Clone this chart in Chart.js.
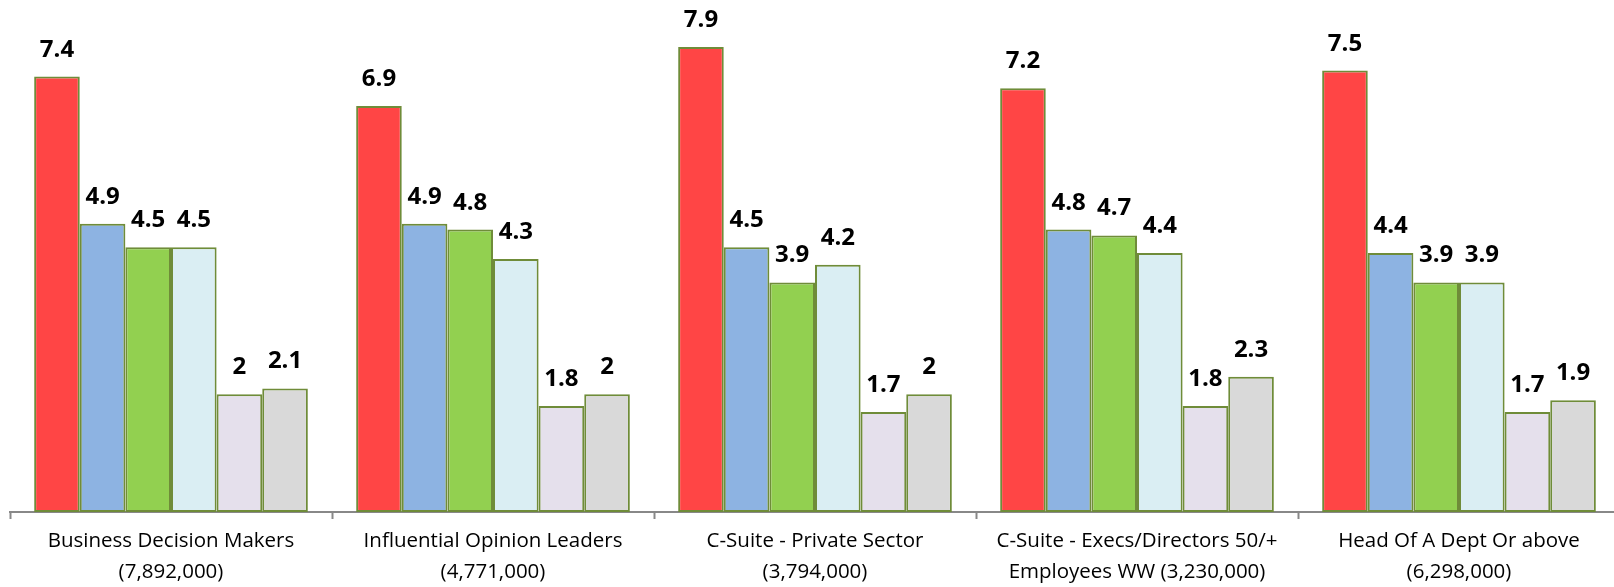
<!DOCTYPE html>
<html>
<head>
<meta charset="utf-8">
<script src="https://cdn.jsdelivr.net/npm/chart.js@4.4.1/dist/chart.umd.min.js"></script>
<style>
  body { margin: 0; overflow: hidden; background: #fff; }
  #wrap { width: 1625px; height: 587px; position: relative; }
</style>
</head>
<body>
<div id="wrap"><canvas id="myChart"></canvas></div>
<script>
var categories = [
  ['Business Decision Makers', '(7,892,000)'],
  ['Influential Opinion Leaders', '(4,771,000)'],
  ['C-Suite - Private Sector', '(3,794,000)'],
  ['C-Suite - Execs/Directors 50/+', 'Employees WW (3,230,000)'],
  ['Head Of A Dept Or above', '(6,298,000)']
];
var series1 = [7.4, 6.9, 7.9, 7.2, 7.5];
var series2 = [4.9, 4.9, 4.5, 4.8, 4.4];
var series3 = [4.5, 4.8, 3.9, 4.7, 3.9];
var series4 = [4.5, 4.3, 4.2, 4.4, 3.9];
var series5 = [2, 1.8, 1.7, 1.8, 1.7];
var series6 = [2.1, 2, 2, 2.3, 1.9];

var colors = ['#FF4545', '#8DB3E2', '#92D050', '#DAEEF3', '#E5E0EC', '#D9D9D9'];
var allSeries = [series1, series2, series3, series4, series5, series6];

var datasets = allSeries.map(function (values, i) {
  return {
    label: 'Series ' + (i + 1),
    data: values,
    backgroundColor: colors[i],
    borderColor: '#6F8C39',
    borderWidth: 2,
    borderSkipped: false,
    categoryPercentage: 0.85,
    barPercentage: 1
  };
});

// value labels above each bar
var valueLabels = {
  id: 'valueLabels',
  afterDatasetsDraw: function (chart) {
    var ctx = chart.ctx;
    ctx.save();
    ctx.font = 'bold 24px "Open Sans"';
    ctx.fillStyle = '#000';
    ctx.textAlign = 'center';
    ctx.textBaseline = 'alphabetic';
    chart.data.datasets.forEach(function (ds, i) {
      chart.getDatasetMeta(i).data.forEach(function (bar, j) {
        ctx.fillText(String(ds.data[j]), bar.x, bar.y - 20);
      });
    });
    ctx.restore();
  }
};

new Chart(document.getElementById('myChart'), {
  type: 'bar',
  data: { labels: categories, datasets: datasets },
  options: {
    responsive: true,
    maintainAspectRatio: false,
    animation: false,
    layout: { padding: { left: 10, right: 5, top: 0, bottom: 0 } },
    plugins: { legend: { display: false }, tooltip: { enabled: false } },
    scales: {
      x: {
        grid: {
          offset: true,
          drawOnChartArea: false,
          drawTicks: true,
          tickLength: 7,
          tickWidth: 2,
          tickColor: '#888'
        },
        border: { color: '#888', width: 2 },
        ticks: {
          color: '#000',
          font: { family: '"Open Sans"', size: 20.5, lineHeight: 1.5 },
          padding: 7,
          maxRotation: 0,
          autoSkip: false
        },
        afterFit: function (scale) { scale.height = 75; }
      },
      y: {
        display: false,
        min: 0,
        max: 8.7
      }
    }
  },
  plugins: [valueLabels]
});
</script>
</body>
</html>
